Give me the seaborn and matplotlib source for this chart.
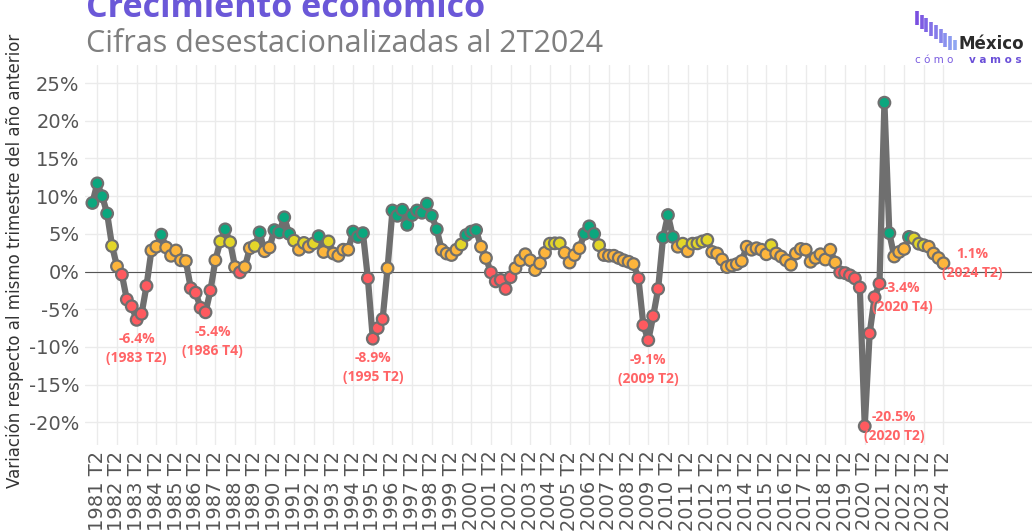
import numpy as np
import pandas as pd
import matplotlib
matplotlib.use("Agg")
import matplotlib.pyplot as plt
import seaborn as sns

# crecimiento anual del PIB (%), trimestral desde 1981 T1 hasta 2024 T2
crecimiento = [
    9.1, 11.7, 10.0, 7.7,      # 1981
    3.4, 0.7, -0.4, -3.7,      # 1982
    -4.6, -6.4, -5.6, -1.9,    # 1983
    2.8, 3.3, 4.9, 3.2,        # 1984
    2.1, 2.8, 1.5, 1.4,        # 1985
    -2.2, -2.8, -4.8, -5.4,    # 1986
    -2.5, 1.5, 4.0, 5.6,       # 1987
    3.9, 0.6, -0.1, 0.6,       # 1988
    3.1, 3.4, 5.2, 2.7,        # 1989
    3.2, 5.5, 5.2, 7.2,        # 1990
    5.0, 4.1, 2.9, 3.8,        # 1991
    3.3, 3.75, 4.7, 2.6,       # 1992
    4.0, 2.4, 2.1, 2.9,        # 1993
    2.9, 5.3, 4.6, 5.1,        # 1994
    -0.9, -8.9, -7.5, -6.3,    # 1995
    0.45, 8.1, 7.4, 8.2,       # 1996
    6.2, 7.5, 8.1, 7.8,        # 1997
    9.0, 7.4, 5.6, 2.9,        # 1998
    2.4, 2.2, 2.9, 3.6,        # 1999
    4.85, 5.3, 5.5, 3.3,       # 2000
    1.8, -0.1, -1.3, -1.1,     # 2001
    -2.3, -0.75, 0.45, 1.5,    # 2002
    2.3, 1.5, 0.2, 1.1,        # 2003
    2.5, 3.7, 3.75, 3.75,      # 2004
    2.5, 1.2, 2.2, 3.1,        # 2005
    5.0, 6.0, 5.0, 3.5,        # 2006
    2.2, 2.1, 2.1, 1.8,        # 2007
    1.5, 1.3, 1.0, -0.9,       # 2008
    -7.1, -9.1, -5.9, -2.3,    # 2009
    4.5, 7.5, 4.6, 3.3,        # 2010
    3.7, 2.7, 3.7, 3.75,       # 2011
    4.0, 4.2, 2.6, 2.4,        # 2012
    1.6, 0.6, 0.8, 1.0,        # 2013
    1.4, 3.3, 2.9, 3.1,        # 2014
    2.9, 2.3, 3.5, 2.4,        # 2015
    2.0, 1.5, 0.9, 2.4,        # 2016
    3.0, 2.9, 1.3, 1.8,        # 2017
    2.3, 1.6, 2.9, 1.2,        # 2018
    -0.1, -0.2, -0.5, -0.9,    # 2019
    -2.1, -20.5, -8.2, -3.4,   # 2020
    -1.6, 22.4, 5.1, 2.0,      # 2021
    2.6, 3.0, 4.6, 4.4,        # 2022
    3.7, 3.5, 3.3, 2.4,        # 2023
    1.8, 1.1,                  # 2024
]
trimestres = [f"{a} T{t}" for a in range(1981, 2025) for t in range(1, 5)][:len(crecimiento)]
anotados = ["1983 T2", "1986 T4", "1995 T2", "2009 T2", "2020 T2", "2020 T4", "2024 T2"]
yticks = [-20, -15, -10, -5, 0, 5, 10, 15, 20, 25]

df = pd.DataFrame({"trimestre": trimestres, "valor": crecimiento})
df["i"] = np.arange(len(df))
df["nivel"] = pd.cut(df["valor"], [-100, 0, 3.35, 4.45, 100],
                     labels=["neg", "bajo", "medio", "alto"], right=False)
pal = {"neg": "#FF5A5F", "bajo": "#FDB53C", "medio": "#E3D629", "alto": "#0BA77E"}

sns.set_style("whitegrid")
plt.rcParams["font.family"] = ["DejaVu Sans"]

fig = plt.figure(figsize=(10.32, 5.31), dpi=100)
ax = fig.add_axes([85/1032, 1-445/531, 1-85/1032, 380/531])

sns.lineplot(data=df, x="i", y="valor", color="#6F6F6F", lw=4.5, ax=ax, zorder=2)
sns.scatterplot(data=df, x="i", y="valor", hue="nivel", palette=pal, s=70,
                edgecolor="#6F6F6F", linewidth=1.6, legend=False, ax=ax, zorder=3)
ax.axhline(0, color="#555555", lw=0.8, zorder=1)

ax.set_xlim(-1.5, 191)
ax.set_ylim(-23, 27.4)
ax.set_yticks(yticks)
ax.set_yticklabels([f"{v}%" for v in yticks], fontsize=14, color="#555555")
pos = df["i"][df["trimestre"].str.endswith("T2")]
ax.set_xticks(pos)
ax.set_xticklabels(df["trimestre"][pos], rotation=90, fontsize=14, color="#555555")
ax.tick_params(length=0, pad=4)
ax.grid(color="#EBEBEB", lw=1)
for s in ax.spines.values():
    s.set_visible(False)
ax.set_xlabel("")
ax.set_ylabel("Variación respecto al mismo trimestre del año anterior",
              fontsize=12, color="#333333")
ax.yaxis.set_label_coords(-0.064, 0.485)

# etiquetas de puntos destacados
desp = {"1983 T2": (0, -9, "center", "top"), "1986 T4": (5, -9, "center", "top"),
        "1995 T2": (0, -9, "center", "top"), "2009 T2": (0, -9, "center", "top"),
        "2020 T2": (21, 0, "center", "center"), "2020 T4": (20, 0, "center", "center"),
        "2024 T2": (21, 0, "center", "center")}
for t in anotados:
    r = df[df["trimestre"] == t].iloc[0]
    dx, dy, ha, va = desp[t]
    ax.annotate(f"{r['valor']:.1f}%\n({t})", (r["i"], r["valor"]), xytext=(dx, dy),
                textcoords="offset points", ha=ha, va=va, fontsize=10,
                color="#FF6466", fontweight="bold", linespacing=1.45,
                family=["Open Sans", "DejaVu Sans"])

fig.text(86/1032, 1-17/531, "Crecimiento económico", fontsize=24.5, color="#6B58D8",
         fontweight="bold", va="baseline", family=["Open Sans", "DejaVu Sans"])
fig.text(86/1032, 1-52/531, "Cifras desestacionalizadas al 2T2024", fontsize=22,
         color="#7F7F7F", va="baseline", family=["Open Sans", "DejaVu Sans"])

# logo
lg = fig.add_axes([914/1032, 1-50/531, 46/1032, 40/531])
lg.set_xlim(0, 46)
lg.set_ylim(50, 10)
lg.axis("off")
cols = sns.blend_palette(["#7A4FE0", "#8FA6F2"], 9)
for j in range(9):
    lg.vlines(3 + 4.7*j, 11 + 3.6*j, 25 + 3.6*j, color=cols[j], lw=2.6)
fig.text(959/1032, 1-49/531, "México", fontsize=12, fontweight="bold",
         color="#2B2B2B", va="baseline")
fig.text(915/1032, 1-63/531, "c ó m o", fontsize=7.5, color="#7A5CE0", va="baseline")
fig.text(969/1032, 1-63/531, "v a m o s", fontsize=7.5, color="#6A4FD8",
         fontweight="bold", va="baseline")

fig.savefig("out.png", dpi=100)
